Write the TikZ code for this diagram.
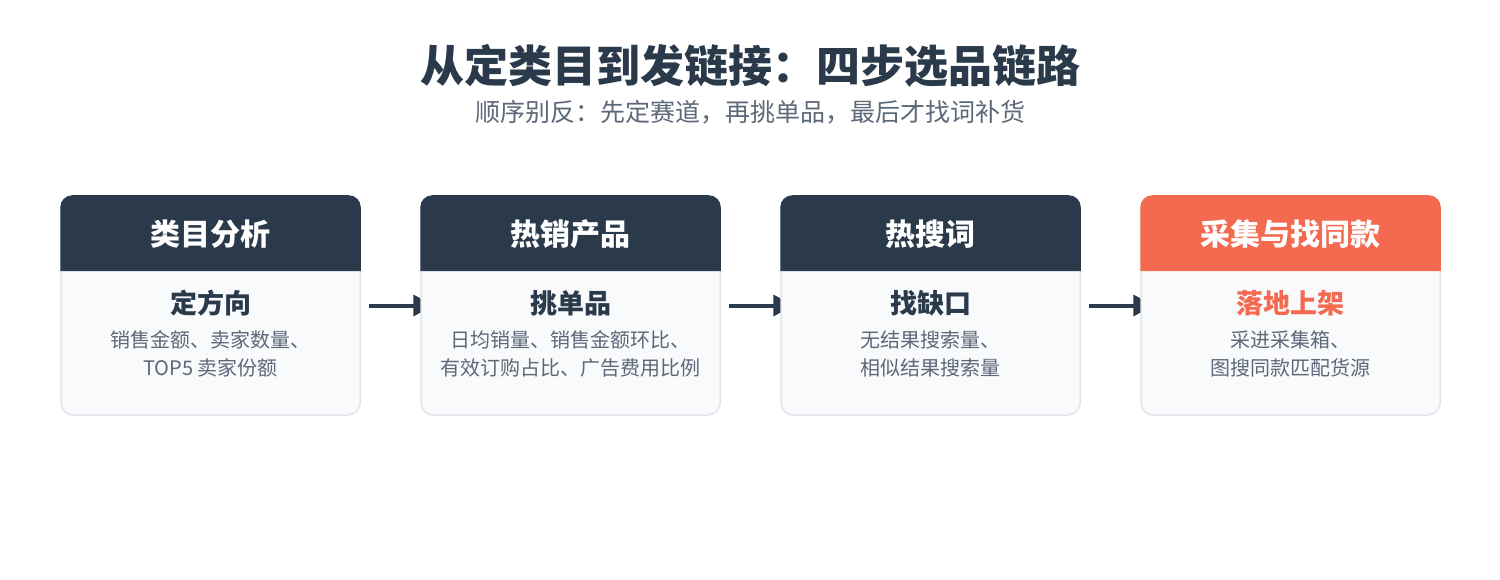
\documentclass[tikz,border=0pt]{standalone}
\usepackage{fontspec}
\setmainfont{Noto Sans CJK SC}
\usetikzlibrary{arrows.meta,calc}
\definecolor{navy}{HTML}{2B3A4B}
\definecolor{coral}{HTML}{F36A50}
\definecolor{bodygray}{HTML}{5D6878}
\definecolor{cardfill}{HTML}{F8FAFC}
\definecolor{cardline}{HTML}{E2E6EC}
\pgfdeclarelayer{bg}
\pgfsetlayers{bg,main}
\tikzset{
  card/.style={draw=cardline, line width=1.5pt, fill=cardfill, rounded corners=12pt,
    minimum width=299pt, minimum height=219pt, inner sep=0pt},
  hdrtext/.style={text=white, font=\fontsize{30}{36}\selectfont\bfseries},
  subhead/.style={font=\fontsize{27}{32}\selectfont\bfseries, text=navy},
  bodytext/.style={font=\fontsize{20}{28}\selectfont, text=bodygray, align=center},
  arr/.style={-{Triangle[length=20pt,width=21pt]}, line width=4pt, draw=navy},
  titletext/.style={font=\fontsize{44}{50}\selectfont\bfseries, text=navy},
  subtitletext/.style={font=\fontsize{25}{30}\selectfont, text=bodygray}
}
\begin{document}
\begin{tikzpicture}[x=1pt,y=-1pt]
\useasboundingbox (0,0) rectangle (1500,580);

\node[titletext] (title) at (750,66) {从定类目到发链接：四步选品链路};
\node[subtitletext] (subtitle) at (750,112.5) {顺序别反：先定赛道，再挑单品，最后才找词补货};

% cards
\node[card] (c1) at (210.5,305.5) {};
\node[card] (c2) at (570.5,305.5) {};
\node[card] (c3) at (930.5,305.5) {};
\node[card] (c4) at (1290.5,305.5) {};

\foreach \c/\col in {c1/navy,c2/navy,c3/navy,c4/coral}{
  \fill[\col, rounded corners=12pt] ([yshift=-76pt]\c.north west) -- (\c.north west)
    -- (\c.north east) -- ([yshift=-76pt]\c.north east);
}

\node[hdrtext] (h1) at ($(c1.north)+(0,39)$) {类目分析};
\node[hdrtext] (h2) at ($(c2.north)+(0,39)$) {热销产品};
\node[hdrtext] (h3) at ($(c3.north)+(0,39)$) {热搜词};
\node[hdrtext] (h4) at ($(c4.north)+(0,39)$) {采集与找同款};

\node[subhead] (s1) at ($(c1.north)+(0,108)$) {定方向};
\node[subhead] (s2) at ($(c2.north)+(0,108)$) {挑单品};
\node[subhead] (s3) at ($(c3.north)+(0,108)$) {找缺口};
\node[subhead, text=coral] (s4) at ($(c4.north)+(0,108)$) {落地上架};

\node[bodytext] (b1) at ($(c1.north)+(0,159)$) {销售金额、卖家数量、\\TOP5 卖家份额};
\node[bodytext] (b2) at ($(c2.north)+(0,159)$) {日均销量、销售金额环比、\\有效订购占比、广告费用比例};
\node[bodytext] (b3) at ($(c3.north)+(0,159)$) {无结果搜索量、\\相似结果搜索量};
\node[bodytext] (b4) at ($(c4.north)+(0,159)$) {采进采集箱、\\图搜同款匹配货源};

\begin{pgfonlayer}{bg}
\fill[white] (0,0) rectangle (1500,580);
\draw[arr] ($(c1.east)+(8,0)$) -- ($(c2.west)+(13,0)$);
\draw[arr] ($(c2.east)+(8,0)$) -- ($(c3.west)+(13,0)$);
\draw[arr] ($(c3.east)+(8,0)$) -- ($(c4.west)+(13,0)$);
\end{pgfonlayer}
\end{tikzpicture}
\end{document}
